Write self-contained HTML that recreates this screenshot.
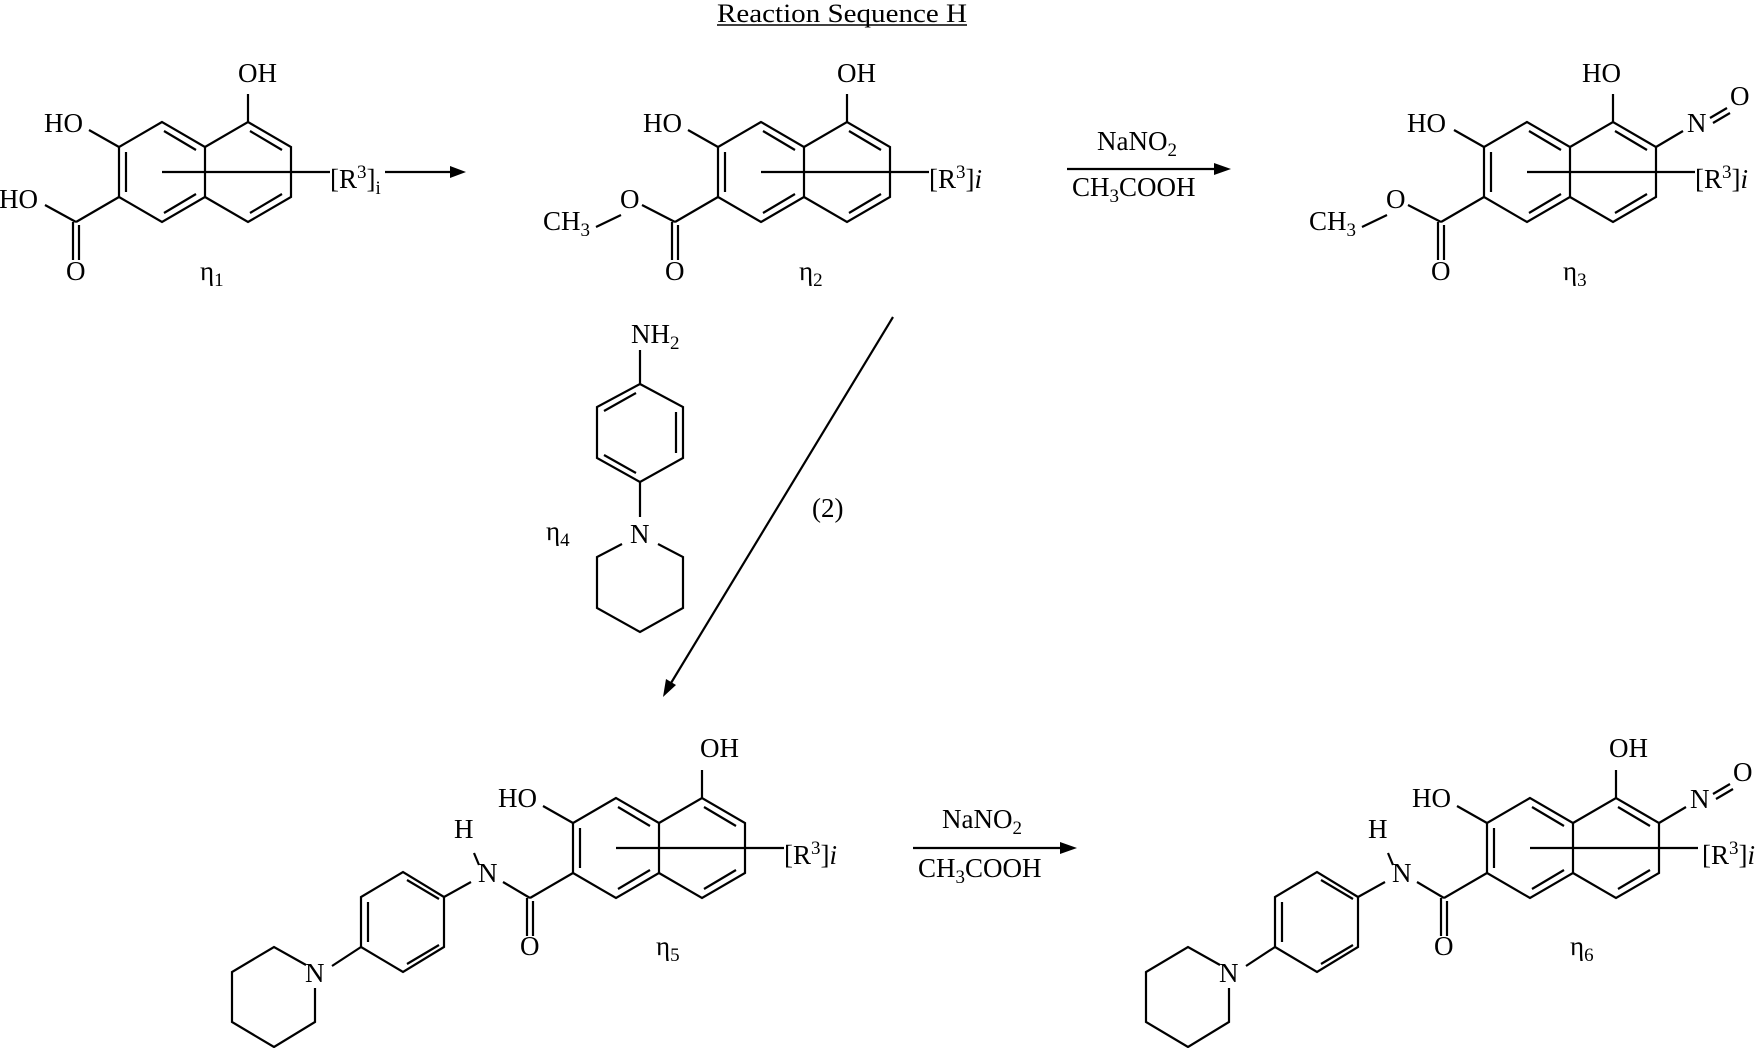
<!DOCTYPE html>
<html><head><meta charset="utf-8"><style>
html,body{margin:0;padding:0;background:#fff;}
svg{display:block;}
text{font-family:"Liberation Serif",serif;font-size:27px;fill:#000;}
.s{font-size:19px;}
</style></head><body>
<svg width="1760" height="1048" viewBox="0 0 1760 1048" xmlns="http://www.w3.org/2000/svg">
<defs>
<g id="naph" stroke="#000" stroke-width="2.2" fill="none" stroke-linejoin="miter">
<path d="M0,0 L-43,25 L-43,75 L0,100 L43,75 L43,25 Z"/>
<path d="M43,25 L86,0 L129,25 L129,75 L86,100 L43,75"/>
<path d="M-36,30 L-36,70 M2,9 L34,28 M2,91 L34,72 M88,9 L120,28 M120,72 L88,91"/>
<path d="M0,50 L168,50"/>
<path d="M86,0 L86,-28 M-43,25 L-73,8"/>
<path d="M-43,75 L-86,100 M-89,100 L-89,138 M-83,103 L-83,138"/>
</g>
<g id="amide" stroke="#000" stroke-width="2.2" fill="none">
<path d="M-86,100 L-113,84 M-142,55 L-137,67 M-145,84 L-172,99"/>
<path d="M-172,99 L-213,74 L-255,99 L-255,149 L-213,174 L-172,149 Z"/>
<path d="M-209,82 L-177,101 M-248,104 L-248,144 M-209,166 L-177,147"/>
<path d="M-255,149 L-284,168 M-310,167 L-342,149 L-384,174 L-384,224 L-342,249 L-301,224 L-301,190"/>
</g>
<g id="nitroso" stroke="#000" stroke-width="2.2" fill="none">
<path d="M129,25 L156,9 M183,-4 L200,-14 M186,1 L203,-9"/>
</g>
<g id="ester" stroke="#000" stroke-width="2.2" fill="none">
<path d="M-86,100 L-119,83 M-140,93 L-165,105"/>
</g>
</defs>

<text x="717" y="22" textLength="250" lengthAdjust="spacingAndGlyphs" style="font-size:26px">Reaction Sequence H</text>
<line x1="717" y1="25" x2="967" y2="25" stroke="#000" stroke-width="1.5"/>

<!-- eta1 -->
<g transform="translate(162,122)">
<use href="#naph"/>
<line x1="-86" y1="100" x2="-117" y2="83" stroke="#000" stroke-width="2.2"/>
<text x="76" y="-40">OH</text>
<text x="-118" y="10">HO</text>
<text x="-163" y="86">HO</text>
<text x="-96" y="158">O</text>
<text x="168" y="66">[R<tspan class="s" dy="-10">3</tspan><tspan dy="10">]</tspan><tspan class="s" dy="6">i</tspan></text>
<text x="38" y="158">η<tspan class="s" dy="6">1</tspan></text>
</g>
<line x1="385" y1="172" x2="452" y2="172" stroke="#000" stroke-width="2.2"/>
<polygon points="466,172 450,166 450,178" fill="#000"/>

<!-- eta2 -->
<g transform="translate(761,122)">
<use href="#naph"/><use href="#ester"/>
<text x="76" y="-40">OH</text>
<text x="-118" y="10">HO</text>
<text x="-141" y="86">O</text>
<text x="-218" y="108">CH<tspan class="s" dy="6">3</tspan></text>
<text x="-96" y="158">O</text>
<text x="168" y="66">[R<tspan class="s" dy="-10">3</tspan><tspan dy="10">]</tspan><tspan font-style="italic">i</tspan></text>
<text x="38" y="158">η<tspan class="s" dy="6">2</tspan></text>
</g>

<line x1="1067" y1="169" x2="1216" y2="169" stroke="#000" stroke-width="2.2"/>
<polygon points="1231,169 1214,163 1214,175" fill="#000"/>
<text x="1097" y="150">NaNO<tspan class="s" dy="6">2</tspan></text>
<text x="1072" y="196">CH<tspan class="s" dy="6">3</tspan><tspan dy="-6">COOH</tspan></text>

<!-- eta3 -->
<g transform="translate(1527,122)">
<use href="#naph"/><use href="#ester"/><use href="#nitroso"/>
<text x="55" y="-40">HO</text>
<text x="-120" y="10">HO</text>
<text x="-141" y="86">O</text>
<text x="-218" y="108">CH<tspan class="s" dy="6">3</tspan></text>
<text x="-96" y="158">O</text>
<text x="160" y="10">N</text>
<text x="203" y="-17">O</text>
<text x="168" y="66">[R<tspan class="s" dy="-10">3</tspan><tspan dy="10">]</tspan><tspan font-style="italic">i</tspan></text>
<text x="36" y="158">η<tspan class="s" dy="6">3</tspan></text>
</g>

<!-- eta4 -->
<g stroke="#000" stroke-width="2.2" fill="none">
<path d="M640,350 L640,384 M640,384 L683,407 L683,458 L640,482 L597,458 L597,407 Z"/>
<path d="M636,393 L604,411 M676,412 L676,453 M636,473 L604,455"/>
<path d="M640,482 L640,517 M622,544 L597,557 L597,608 L640,632 L683,608 L683,557 L658,544"/>
<path d="M893,317 L668,688"/>
</g>
<polygon points="663,697 666,679 676,685" fill="#000"/>
<text x="631" y="343">NH<tspan class="s" dy="6">2</tspan></text>
<text x="630" y="543">N</text>
<text x="546" y="540">η<tspan class="s" dy="6">4</tspan></text>
<text x="812" y="517">(2)</text>

<!-- eta5 -->
<g transform="translate(616,798)">
<use href="#naph"/><use href="#amide"/>
<text x="84" y="-41">OH</text>
<text x="-118" y="9">HO</text>
<text x="-138" y="84">N</text>
<text x="-162" y="40">H</text>
<text x="-311" y="184">N</text>
<text x="-96" y="157">O</text>
<text x="168" y="66">[R<tspan class="s" dy="-10">3</tspan><tspan dy="10">]</tspan><tspan font-style="italic">i</tspan></text>
<text x="40" y="157">η<tspan class="s" dy="6">5</tspan></text>
</g>

<line x1="913" y1="848" x2="1062" y2="848" stroke="#000" stroke-width="2.2"/>
<polygon points="1077,848 1060,842 1060,854" fill="#000"/>
<text x="942" y="828">NaNO<tspan class="s" dy="6">2</tspan></text>
<text x="918" y="877">CH<tspan class="s" dy="6">3</tspan><tspan dy="-6">COOH</tspan></text>

<!-- eta6 -->
<g transform="translate(1530,798)">
<use href="#naph"/><use href="#amide"/><use href="#nitroso"/>
<text x="79" y="-41">OH</text>
<text x="-118" y="9">HO</text>
<text x="-138" y="84">N</text>
<text x="-162" y="40">H</text>
<text x="-311" y="184">N</text>
<text x="-96" y="157">O</text>
<text x="160" y="10">N</text>
<text x="203" y="-17">O</text>
<text x="172" y="66">[R<tspan class="s" dy="-10">3</tspan><tspan dy="10">]</tspan><tspan font-style="italic">i</tspan></text>
<text x="40" y="157">η<tspan class="s" dy="6">6</tspan></text>
</g>
</svg>
</body></html>
